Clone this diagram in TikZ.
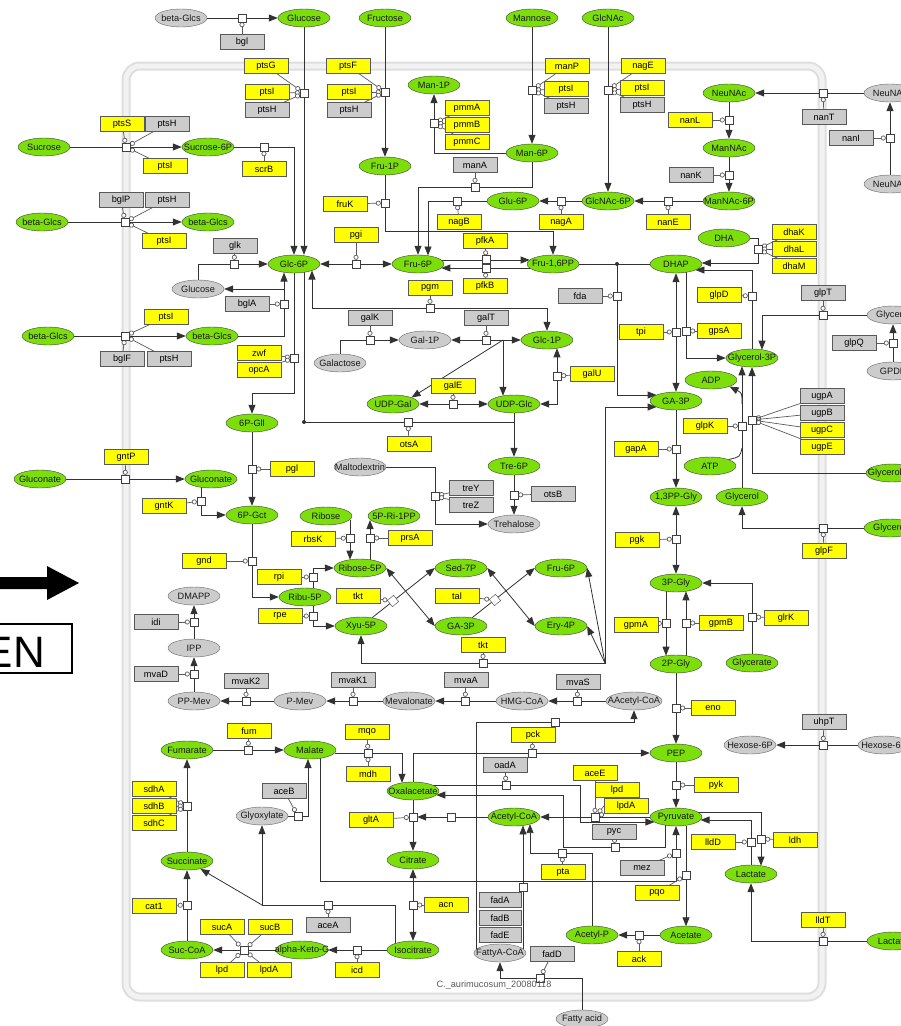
\documentclass[tikz,border=0pt]{standalone}
\usepackage{fontspec}
\setmainfont{Liberation Sans}
\usetikzlibrary{shapes.geometric,arrows.meta,calc}
\pgfdeclarelayer{bg}
\pgfsetlayers{bg,main}
\definecolor{metgreen}{RGB}{124,222,10}
\definecolor{metgrey}{RGB}{204,204,204}
\definecolor{enzyellow}{RGB}{255,255,0}
\definecolor{linec}{RGB}{50,50,50}
\newcommand\lblfont{\fontsize{9.2}{10}\selectfont}
\tikzset{
  gm/.style={ellipse, draw=black!75, fill=metgreen, minimum width=52pt, minimum height=18pt, inner sep=0pt},
  xm/.style={ellipse, draw=black!60, fill=metgrey, minimum width=52pt, minimum height=18pt, inner sep=0pt},
  lbl/.style={font=\lblfont, inner sep=0pt, text=black!90},
  yb/.style={rectangle, draw=black!65, fill=enzyellow, minimum width=44pt, minimum height=15pt, inner sep=0pt, font=\lblfont},
  gb/.style={rectangle, draw=black!65, fill=metgrey, minimum width=44pt, minimum height=15pt, inner sep=0pt, font=\lblfont},
  rs/.style={rectangle, draw=black!75, fill=white, minimum size=8pt, inner sep=0pt},
  rl/.style={draw=linec, line width=0.8pt},
  ra/.style={rl, -{Triangle[length=9pt,width=7pt]}},
  rb/.style={rl, {Triangle[length=9pt,width=7pt]}-{Triangle[length=9pt,width=7pt]}},
  cat/.style={draw=black!65, line width=0.7pt, -{Circle[length=5pt,width=5pt,fill=white]}},
}
% species: style, name, position, label
\newcommand\metab[4]{\node[#1] (#2) at (#3) {}; \node[lbl] at (#2.center) {#4};}
% process square
\newcommand\rxn[2]{\node[rs] (#1) at (#2) {};}

\begin{document}
\begin{tikzpicture}[x=1pt,y=-1pt]
\useasboundingbox (0,0) rectangle (901,1026);

% ---------- species ----------
\metab{xm}{bglcs0}{181,18}{beta-Glcs}
\metab{gm}{glucose0}{304,18}{Glucose}
\metab{gm}{fructose}{385,18}{Fructose}
\metab{gm}{mannose}{532,18}{Mannose}
\metab{gm}{glcnac}{608,18}{GlcNAc}
\metab{gm}{sucrose}{44,147}{Sucrose}
\metab{gm}{suc6p}{208,147}{Sucrose-6P}
\metab{gm}{bglcs1}{42,222}{beta-Glcs}
\metab{gm}{bglcs2}{208,222}{beta-Glcs}
\metab{gm}{man1p}{434,85}{Man-1P}
\metab{gm}{man6p}{532,153}{Man-6P}
\metab{gm}{fru1p}{385,166}{Fru-1P}
\metab{gm}{glu6p}{513,201}{Glu-6P}
\metab{gm}{glcnac6p}{608,201}{GlcNAc-6P}
\metab{gm}{neunac}{729,93}{NeuNAc}
\metab{xm}{neunacO}{890,93}{NeuNAc}
\metab{xm}{neunacB}{890,184}{NeuNAc}
\metab{gm}{mannac}{729,148}{ManNAc}
\metab{gm}{mannac6p}{729,201}{ManNAc-6P}
\metab{gm}{dha}{724,238}{DHA}
\metab{gm}{glc6p}{294,264}{Glc-6P}
\metab{gm}{fru6p}{418,264}{Fru-6P}
\metab{gm}{fru16pp}{553,264}{Fru-1,6PP}
\metab{gm}{dhap}{676,264}{DHAP}
\metab{xm}{glucose1}{198,289}{Glucose}
\metab{gm}{bglcs3}{48,336}{beta-Glcs}
\metab{gm}{bglcs4}{212,336}{beta-Glcs}
\metab{xm}{gal1p}{425,340}{Gal-1P}
\metab{xm}{galactose}{340,363}{Galactose}
\metab{gm}{glc1p}{547,340}{Glc-1P}
\metab{gm}{udpgal}{393,404}{UDP-Gal}
\metab{gm}{udpglc}{514,404}{UDP-Glc}
\metab{gm}{glycerol3p}{752,358}{Glycerol-3P}
\metab{xm}{glycerolO}{893,315}{Glycerol}
\metab{xm}{gpde}{893,371}{GPDE}
\metab{gm}{adp}{711,380}{ADP}
\metab{gm}{ga3p}{676,401}{GA-3P}
\metab{gm}{atp}{710,466}{ATP}
\metab{gm}{glycerol}{742,497}{Glycerol}
\metab{gm}{glycerol3pO}{892,473}{Glycerol-3P}
\metab{gm}{pgll}{252,423}{6P-Gll}
\metab{gm}{gluconate0}{40,479}{Gluconate}
\metab{gm}{gluconate1}{211,479}{Gluconate}
\metab{xm}{maltodextrin}{360,467}{Maltodextrin}
\metab{gm}{tre6p}{514,466}{Tre-6P}
\metab{xm}{trehalose}{514,524}{Trehalose}
\metab{gm}{pgct}{252,515}{6P-Gct}
\metab{gm}{ribose}{326,516}{Ribose}
\metab{gm}{prpp}{394,516}{5P-Ri-1PP}
\metab{gm}{r5p}{360,568}{Ribose-5P}
\metab{gm}{s7p}{461,568}{Sed-7P}
\metab{gm}{fru6pb}{561,568}{Fru-6P}
\metab{gm}{ribu5p}{305,597}{Ribu-5P}
\metab{gm}{x5p}{361,626}{Xyu-5P}
\metab{gm}{ga3pb}{461,626}{GA-3P}
\metab{gm}{e4p}{561,626}{Ery-4P}
\metab{gm}{bpg}{676,497}{1,3PP-Gly}
\metab{gm}{glycerolO2}{890,528}{Glycerol}
\metab{gm}{pg3}{676,583}{3P-Gly}
\metab{gm}{pg2}{676,664}{2P-Gly}
\metab{gm}{glycerate}{752,663}{Glycerate}
\metab{xm}{dmapp}{194,596}{DMAPP}
\metab{xm}{ipp}{194,648}{IPP}
\metab{xm}{ppmev}{194,701}{PP-Mev}
\metab{xm}{pmev}{300,701}{P-Mev}
\metab{xm}{mevalonate}{409,701}{Mevalonate}
\metab{xm}{hmgcoa}{522,701}{HMG-CoA}
\metab{xm,minimum width=56pt}{aacetylcoa}{634,701}{AAcetyl-CoA}
\metab{xm}{hexose6p}{750,745}{Hexose-6P}
\metab{xm}{hexose6pO}{884,745}{Hexose-6P}
\metab{gm}{pep}{676,753}{PEP}
\metab{gm}{fumarate}{187,750}{Fumarate}
\metab{gm}{malate}{310,750}{Malate}
\metab{gm}{oxalacetate}{413,791}{Oxalacetate}
\metab{gm}{pyruvate}{676,817}{Pyruvate}
\metab{xm}{glyoxylate}{262,816}{Glyoxylate}
\metab{gm}{acetylcoa}{514,817}{Acetyl-CoA}
\metab{gm}{citrate}{413,860}{Citrate}
\metab{gm}{succinate}{187,861}{Succinate}
\metab{gm}{lactate}{751,874}{Lactate}
\metab{gm}{acetate}{686,935}{Acetate}
\metab{gm}{acetylp}{592,935}{Acetyl-P}
\metab{gm}{lactateO}{893,941}{Lactate}
\metab{gm}{succoa}{187,950}{Suc-CoA}
\metab{gm}{akg}{302,950}{alpha-Keto-G}
\metab{gm}{isocitrate}{413,950}{Isocitrate}
\metab{xm}{fattyacoa}{500,953}{FattyA-CoA}
\metab{xm}{fattyacid}{582,1019}{Fatty acid}

% ---------- enzymes ----------
\node[gb] (ebgl) at (242,42) {bgl};
\node[yb] (eptsG) at (266,66) {ptsG};
\node[yb] (eptsI1) at (267,92) {ptsI};
\node[gb] (eptsH1) at (267,110) {ptsH};
\node[yb] (eptsF) at (348,66) {ptsF};
\node[yb] (eptsI2) at (349,92) {ptsI};
\node[gb] (eptsH2) at (349,110) {ptsH};
\node[yb] (epmmA) at (467,108) {pmmA};
\node[yb] (epmmB) at (467,125) {pmmB};
\node[yb] (epmmC) at (467,142) {pmmC};
\node[yb] (emanP) at (567,66) {manP};
\node[yb] (eptsI3) at (566,89) {ptsI};
\node[gb] (eptsH3) at (566,106) {ptsH};
\node[yb] (enagE) at (643,66) {nagE};
\node[yb] (eptsI4) at (642,88) {ptsI};
\node[gb] (eptsH4) at (642,105) {ptsH};
\node[gb] (enanT) at (824,117) {nanT};
\node[gb] (enanI) at (851,138) {nanI};
\node[yb] (enanL) at (690,120) {nanL};
\node[gb] (enanK) at (691,175) {nanK};
\node[yb] (enanE) at (668,222) {nanE};
\node[yb] (eptsS) at (122,124) {ptsS};
\node[gb] (eptsH5) at (167,124) {ptsH};
\node[yb] (eptsI5) at (165,166) {ptsI};
\node[yb] (escrB) at (264,169) {scrB};
\node[gb] (ebglP) at (121,200) {bglP};
\node[gb] (eptsH6) at (167,200) {ptsH};
\node[yb] (eptsI6) at (164,241) {ptsI};
\node[yb] (efruK) at (345,204) {fruK};
\node[gb] (emanA) at (475,165) {manA};
\node[yb] (enagB) at (459,222) {nagB};
\node[yb] (enagA) at (561,222) {nagA};
\node[gb] (eglk) at (235,246) {glk};
\node[yb] (epgi) at (356,235) {pgi};
\node[yb] (epfkA) at (485,241) {pfkA};
\node[yb] (epfkB) at (485,286) {pfkB};
\node[yb] (epgm) at (430,288) {pgm};
\node[yb] (edhaK) at (794,232) {dhaK};
\node[yb] (edhaL) at (794,249) {dhaL};
\node[yb] (edhaM) at (794,266) {dhaM};
\node[gb] (ebglA) at (247,304) {bglA};
\node[yb] (eptsI7) at (166,317) {ptsI};
\node[gb] (ebglF) at (122,359) {bglF};
\node[gb] (eptsH7) at (169,359) {ptsH};
\node[yb] (ezwf) at (259,353) {zwf};
\node[yb] (eopcA) at (259,370) {opcA};
\node[gb] (efda) at (580,296) {fda};
\node[yb] (eglpD) at (719,295) {glpD};
\node[gb] (eglpT) at (823,293) {glpT};
\node[yb] (etpi) at (641,332) {tpi};
\node[yb] (egpsA) at (719,331) {gpsA};
\node[gb] (eglpQ) at (854,343) {glpQ};
\node[gb] (egalK) at (370,318) {galK};
\node[gb] (egalT) at (486,318) {galT};
\node[yb] (egalU) at (592,374) {galU};
\node[yb] (egalE) at (453,386) {galE};
\node[yb] (eotsA) at (409,444) {otsA};
\node[gb] (eugpA) at (822,396) {ugpA};
\node[gb] (eugpB) at (822,413) {ugpB};
\node[yb] (eugpC) at (822,430) {ugpC};
\node[yb] (eugpE) at (822,447) {ugpE};
\node[yb] (eglpK) at (705,426) {glpK};
\node[yb] (egapA) at (636,449) {gapA};
\node[yb] (epgl) at (292,469) {pgl};
\node[yb] (egntP) at (126,457) {gntP};
\node[yb] (egntK) at (164,506) {gntK};
\node[gb] (etreY) at (471,488) {treY};
\node[gb] (etreZ) at (471,505) {treZ};
\node[gb] (eotsB) at (553,494) {otsB};
\node[yb] (erbsK) at (313,539) {rbsK};
\node[yb] (eprsA) at (410,538) {prsA};
\node[yb] (epgk) at (637,540) {pgk};
\node[yb] (eglpF) at (824,551) {glpF};
\node[yb] (egnd) at (204,561) {gnd};
\node[yb] (erpi) at (279,577) {rpi};
\node[yb] (erpe) at (280,616) {rpe};
\node[yb] (etkt) at (358,596) {tkt};
\node[yb] (etal) at (457,596) {tal};
\node[yb] (etkt2) at (483,645) {tkt};
\node[yb] (egpmA) at (636,625) {gpmA};
\node[yb] (egpmB) at (721,623) {gpmB};
\node[yb] (eglrK) at (786,618) {glrK};
\node[gb] (eidi) at (156,622) {idi};
\node[gb] (emvaD) at (156,674) {mvaD};
\node[gb] (emvaKb) at (246,681) {mvaK2};
\node[gb] (emvaKa) at (353,680) {mvaK1};
\node[gb] (emvaA) at (466,680) {mvaA};
\node[gb] (emvaS) at (578,682) {mvaS};
\node[yb] (eeno) at (713,708) {eno};
\node[gb] (euhpT) at (824,722) {uhpT};
\node[yb] (efum) at (249,731) {fum};
\node[yb] (emqo) at (367,732) {mqo};
\node[yb] (epck) at (533,735) {pck};
\node[yb] (emdh) at (368,774) {mdh};
\node[gb] (eoadA) at (505,765) {oadA};
\node[yb] (eaceE) at (595,773) {aceE};
\node[yb] (elpd) at (617,790) {lpd};
\node[yb] (elpdA) at (626,806) {lpdA};
\node[yb] (epyk) at (716,785) {pyk};
\node[yb] (esdhA) at (154,789) {sdhA};
\node[yb] (esdhB) at (154,806) {sdhB};
\node[yb] (esdhC) at (154,823) {sdhC};
\node[gb] (eaceB) at (284,791) {aceB};
\node[yb] (egltA) at (371,820) {gltA};
\node[gb] (epyc) at (614,832) {pyc};
\node[yb] (elldD) at (713,842) {lldD};
\node[yb] (eldh) at (795,840) {ldh};
\node[gb] (emez) at (642,868) {mez};
\node[yb] (epta) at (563,872) {pta};
\node[yb] (epqo) at (657,893) {pqo};
\node[yb] (ecat) at (154,906) {cat1};
\node[yb] (eacn) at (446,905) {acn};
\node[gb] (eaceA) at (328,925) {aceA};
\node[gb,minimum width=42pt] (efadA) at (500,900) {fadA};
\node[gb,minimum width=42pt] (efadB) at (500,918) {fadB};
\node[gb,minimum width=42pt] (efadE) at (500,935) {fadE};
\node[yb] (esucA) at (222,927) {sucA};
\node[yb] (esucB) at (270,927) {sucB};
\node[yb] (elpd2) at (222,970) {lpd};
\node[yb] (elpdA2) at (269,970) {lpdA};
\node[yb] (eicd) at (357,970) {icd};
\node[yb] (eack) at (639,959) {ack};
\node[yb] (elldT) at (823,920) {lldT};
\node[gb] (efadD) at (552,954) {fadD};

% ---------- process squares ----------
\rxn{qbgl}{242,18} \rxn{qptsG}{304,93} \rxn{qptsF}{385,92} \rxn{qpmm}{434,123}
\rxn{qmanP}{532,90} \rxn{qnagE}{608,90} \rxn{qnanT}{823,93} \rxn{qnanI}{890,138}
\rxn{qnanL}{729,120} \rxn{qnanK}{729,175} \rxn{qnanE}{668,201} \rxn{qptsS}{126,147}
\rxn{qscrB}{264,147} \rxn{qbglP}{125,222} \rxn{qfruK}{385,203} \rxn{qmanA}{475,187}
\rxn{qnagB}{457,201} \rxn{qnagA}{561,201} \rxn{qglk}{234,264} \rxn{qpgi}{356,264}
\rxn{qpfkA}{486,259.5} \rxn{qpfkB}{486,268.5} \rxn{qdha}{758,249} \rxn{qbglA}{284,304}
\rxn{qbglF}{125,336} \rxn{qzwf}{294,358} \rxn{qpgm}{430,308} \rxn{qfda}{617,296}
\rxn{qglpD}{752,296} \rxn{qglpT}{823,315} \rxn{qtpi}{676,332} \rxn{qgpsA}{686,331}
\rxn{qglpQ}{893,343} \rxn{qgalK}{370,340} \rxn{qgalT}{486,340} \rxn{qgalU}{557,376}
\rxn{qgalE}{453,404} \rxn{qotsA}{408,422} \rxn{qugp}{752,420} \rxn{qglpK}{742,426}
\rxn{qgapA}{676,449} \rxn{qpgl}{252,469} \rxn{qgntP}{125,479} \rxn{qgntK}{201,501}
\rxn{qtre}{435,496} \rxn{qotsB}{514,495} \rxn{qrbsK}{350,538} \rxn{qprsA}{370,538}
\rxn{qpgk}{676,539} \rxn{qglpF}{823,528} \rxn{qgnd}{252,561} \rxn{qrpi}{313,577}
\rxn{qrpe}{313,616} \rxn{qtkt2}{483,663} \rxn{qgpmA}{666,623} \rxn{qgpmB}{686,623}
\rxn{qglrK}{752,617} \rxn{qidi}{194,622} \rxn{qmvaD}{194,674} \rxn{qmvaKb}{246,701}
\rxn{qmvaKa}{353,701} \rxn{qmvaA}{465,701} \rxn{qmvaS}{577,701} \rxn{qeno}{676,708}
\rxn{qaac}{555,722} \rxn{quhpT}{823,745} \rxn{qfum}{248,750} \rxn{qmqo}{368,753}
\rxn{qpck}{532,753} \rxn{qoadA}{506,785} \rxn{qpdh}{595,817} \rxn{qpyk}{676,785}
\rxn{qsdh}{187,806} \rxn{qaceB}{298,816} \rxn{qgltA}{413,817} \rxn{qacc}{451,817}
\rxn{qpyc}{615,847} \rxn{qlldD}{751,842} \rxn{qldh}{761,839} \rxn{qmez}{676,853}
\rxn{qpta}{562,853} \rxn{qpqo}{686,875} \rxn{qfad}{523,887} \rxn{qcat}{187,905}
\rxn{qacn}{413,905} \rxn{qaceA}{328,905} \rxn{qlldT}{823,941} \rxn{qsuc}{244,950}
\rxn{qicd}{357,950} \rxn{qack}{639,935} \rxn{qfadD}{540,978}
\node[rs,rotate=40] (qtkt) at (393,601) {};
\node[rs,rotate=40] (qtal) at (495,600) {};

% label and side marks
\node[font=\lblfont, text=black!65, inner sep=0pt] (tag) at (494,985) {C.\_aurimucosum\_20080118};
\fill (0,577) -- (47,577) -- (47,566) -- (79,583) -- (47,600) -- (47,589) -- (0,589) -- cycle;
\draw[line width=1.6pt] (-20,624) rectangle (72,673);
\node[anchor=base east, font=\fontsize{44}{44}\selectfont, inner sep=0pt] (enlbl) at (45,667) {EN};

\begin{pgfonlayer}{bg}
% compartment
\draw[line width=9pt, black!13, rounded corners=14pt] (126,66) rectangle (822,997);
\draw[line width=5pt, black!5, rounded corners=14pt] (126,66) rectangle (822,997);

% uptake systems
\draw[ra] (bglcs0) -- (glucose0);
\draw[ra] (glucose0) -- (glucose0 |- glc6p.north);
\draw[ra] (fructose) -- (fru1p);
\draw[ra] (man6p) -- (man6p -| man1p) -- (man1p);
\draw[ra] (mannose) -- (man6p);
\draw[ra] (glcnac) -- (glcnac6p);
\draw[ra] (neunacO) -- (neunac);
\draw[ra] (neunacB) -- (neunacO);
\draw[ra] (neunac) -- (mannac);
\draw[ra] (mannac) -- (mannac6p);
\draw[ra] (mannac6p) -- (glcnac6p);
\draw[ra] (glcnac6p) -- (glu6p);
\draw[ra] (glu6p) -- (428,201) -- (428,255.5);
\draw[ra] (man6p) -- (532,187) -- (418,187) -- (fru6p);
\draw[ra] (fru1p) -- (385,231) -- (553,231) -- (fru16pp);
\draw[ra] (sucrose) -- (suc6p);
\draw[ra] (suc6p) -- (suc6p -| glc6p) -- (glc6p);
\draw[ra] (bglcs1) -- (bglcs2);
\draw[ra] (glucose1) -- (glucose1 |- glc6p) -- (glc6p);
\draw[ra] (bglcs4) -- (284,336) -- (284,272.5);
\draw[ra] (284,289) -- (glucose1);
\draw[ra] (bglcs3) -- (bglcs4);

% glycolysis and branches
\draw[ra] (glc6p) -- (294,393) -- (252,393) -- (pgll);
\draw[rl] (304,272.4) -- (304,422) -- (514,422);
\fill[linec] (304,422) circle (2pt);
\draw[rb] (312,270.5) -- (312,308) -- (547,308) -- (glc1p);
\draw[rb] (glc6p) -- (fru6p);
\draw[ra] (441.3,260) -- (529.7,260);
\draw[ra] (529.7,268) -- (441.3,268);
\draw[rl] (fru16pp) -- (dhap);
\fill[linec] (617,264) circle (2pt);
\draw[ra] (617,264) -- (617,395) -- (656.6,395);
\draw[ra] (dha) -- (758,238) -- (758,263) -- (701.8,263);
\draw[ra] (glycerol3p) -- (752,270) -- (695.4,270);
\draw[rb] (dhap) -- (ga3p);
\draw[ra] (686,272.3) -- (686,358) -- (glycerol3p);
\draw[ra] (glycerolO) -- (762,315) -- (762,349.7);
\draw[ra] (gpde) -- (glycerolO);
\draw[ra] (glycerol) -- (742,366.3);
\draw[ra] (742,404) .. controls (742,393) .. (adp.south east);
\draw[rl] (atp.north east) .. controls (740,457) .. (742,448);
\draw[ra] (glycerol3pO) -- (752,473) -- (752,367);
\draw[ra] (ga3p) -- (bpg);
\draw[rb] (bpg) -- (pg3);
\draw[ra] (666,591.3) -- (666,655.7);
\draw[ra] (686,655.7) -- (686,591.3);
\draw[ra] (glycerate) -- (752,583) -- (pg3);
\draw[ra] (glycerolO2) -- (742,528) -- (glycerol);
\draw[ra] (pg2) -- (pep);
\draw[ra] (pep) -- (pyruvate);
\draw[ra] (hexose6pO) -- (hexose6p);

% pyruvate node
\draw[ra] (lactateO) -- (751,941) -- (lactate);
\draw[ra] (697.6,812) -- (761,812) -- (761,865.7);
\draw[ra] (751,865) -- (751,820) -- (700.5,820);
\draw[ra] (686,826.3) -- (686,926.3);
\draw[ra] (acetate) -- (acetylp);
\draw[ra] (592,926) -- (592,853) -- (530,853) -- (530,824.1);
\draw[ra] (523,948.8) -- (523,825.4);
\draw[ra] (fattyacid) -- (582,978) -- (500,978) -- (fattyacoa);
\draw[ra] (476,949.5) -- (476,722) -- (634,722) -- (aacetylcoa);
\draw[ra] (pyruvate) -- (acetylcoa);
\draw[ra] (432.4,785) -- (580,785) -- (580,822) -- (654.4,822);
\draw[ra] (665,825.2) -- (665,847) -- (563,847) -- (563,795) -- (436.3,795);
\draw[ra] (320,758.3) -- (320,881) -- (676,881) -- (676,826);

% mevalonate pathway
\draw[ra] (aacetylcoa) -- (hmgcoa);
\draw[ra] (hmgcoa) -- (mevalonate);
\draw[ra] (mevalonate) -- (pmev);
\draw[ra] (pmev) -- (ppmev);
\draw[ra] (ppmev) -- (ipp);
\draw[ra] (ipp) -- (dmapp);

% TCA cycle
\draw[ra] (oxalacetate) -- (413,753) -- (pep);
\draw[ra] (334.5,753) -- (402,753) -- (402,782.8);
\draw[ra] (fumarate) -- (malate);
\draw[ra] (succinate) -- (fumarate);
\draw[ra] (succoa) -- (succinate);
\draw[ra] (akg) -- (succoa);
\draw[ra] (isocitrate) -- (akg);
\draw[rb] (citrate) -- (isocitrate);
\draw[rl] (395,943.5) -- (395,905) -- (262,905);
\draw[ra] (262,905) -- (glyoxylate);
\draw[ra] (262,905) -- (succinate);
\draw[ra] (glyoxylate) -- (308,816) -- (308,759);
\draw[ra] (oxalacetate) -- (citrate);
\draw[ra] (acetylcoa) -- (qgltA);

% pentose phosphate pathway
\draw[ra] (372,617.8) -- (s7p.west);
\draw[rb] (r5p.east) -- (ga3pb.west);
\draw[ra] (472,617.8) -- (fru6pb.west);
\draw[rb] (s7p.east) -- (e4p.west);
\draw[rl] (605,407) -- (605,663) -- (361,663);
\draw[ra] (361,663) -- (x5p);
\draw[ra] (605,663) -- (fru6pb.east);
\draw[ra] (605,663) -- (e4p.east);
\draw[ra] (605,407) -- (656.6,407);
\draw[ra] (350,519.5) -- (350,559.7);
\draw[ra] (370,559.7) -- (370,520);
\draw[ra] (313,588.4) -- (313,568) -- (r5p);
\draw[ra] (313,605.6) -- (313,626) -- (x5p);
\draw[ra] (pgct) -- (252,597) -- (ribu5p);
\draw[ra] (pgll) -- (pgct);
\draw[ra] (gluconate0) -- (gluconate1);
\draw[ra] (201,487.3) -- (201,515) -- (pgct);

% trehalose and galactose
\draw[ra] (maltodextrin) -- (435,467) -- (435,524) -- (trehalose);
\draw[ra] (tre6p) -- (trehalose);
\draw[ra] (udpglc) -- (tre6p);
\draw[ra] (galactose) -- (340,340) -- (gal1p);
\draw[rb] (gal1p) -- (glc1p);
\draw[ra] (503,340) -- (udpgal.north east);
\draw[ra] (503,340) -- (503,395.8);
\draw[rb] (udpglc) -- (557,404) -- (557,348.3);
\draw[rb] (udpgal) -- (udpglc);

% catalysis links
\foreach \a/\b in {ebgl/qbgl, eptsG/qptsG, eptsI1/qptsG, eptsH1/qptsG, eptsF/qptsF,
  eptsI2/qptsF, eptsH2/qptsF, epmmA/qpmm, epmmB/qpmm, epmmC/qpmm, emanP/qmanP,
  eptsI3/qmanP, eptsH3/qmanP, enagE/qnagE, eptsI4/qnagE, eptsH4/qnagE, enanT/qnanT,
  enanI/qnanI, enanL/qnanL, enanK/qnanK, enanE/qnanE, eptsS/qptsS, eptsH5/qptsS,
  eptsI5/qptsS, escrB/qscrB, ebglP/qbglP, eptsH6/qbglP, eptsI6/qbglP, efruK/qfruK,
  emanA/qmanA, enagB/qnagB, enagA/qnagA, eglk/qglk, epgi/qpgi, epfkA/qpfkA,
  epfkB/qpfkB, epgm/qpgm, edhaK/qdha, edhaL/qdha, edhaM/qdha, ebglA/qbglA,
  eptsI7/qbglF, ebglF/qbglF, eptsH7/qbglF, ezwf/qzwf, eopcA/qzwf, efda/qfda,
  eglpD/qglpD, eglpT/qglpT, etpi/qtpi, egpsA/qgpsA, eglpQ/qglpQ, egalK/qgalK,
  egalT/qgalT, egalU/qgalU, egalE/qgalE, eotsA/qotsA, eugpA/qugp, eugpB/qugp,
  eugpC/qugp, eugpE/qugp, eglpK/qglpK, egapA/qgapA, epgl/qpgl, egntP/qgntP,
  egntK/qgntK, etreY/qtre, etreZ/qtre, eotsB/qotsB, erbsK/qrbsK, eprsA/qprsA,
  epgk/qpgk, eglpF/qglpF, egnd/qgnd, erpi/qrpi, erpe/qrpe, etkt/qtkt, etal/qtal,
  etkt2/qtkt2, egpmA/qgpmA, egpmB/qgpmB, eglrK/qglrK, eidi/qidi, emvaD/qmvaD,
  emvaKb/qmvaKb, emvaKa/qmvaKa, emvaA/qmvaA, emvaS/qmvaS, eeno/qeno, euhpT/quhpT,
  efum/qfum, emqo/qmqo, emdh/qmqo, epck/qpck, eoadA/qoadA, eaceE/qpdh, elpd/qpdh,
  elpdA/qpdh, epyk/qpyk, esdhA/qsdh, esdhB/qsdh, esdhC/qsdh, eaceB/qaceB,
  egltA/qgltA, epyc/qpyc, elldD/qlldD, eldh/qldh, emez/qmez, epta/qpta, epqo/qpqo,
  ecat/qcat, eacn/qacn, eaceA/qaceA, esucA/qsuc, esucB/qsuc, elpd2/qsuc,
  elpdA2/qsuc, eicd/qicd, eack/qack, elldT/qlldT, efadD/qfadD}
  \draw[cat] (\a) -- (\b);
\end{pgfonlayer}
\end{tikzpicture}
\end{document}
